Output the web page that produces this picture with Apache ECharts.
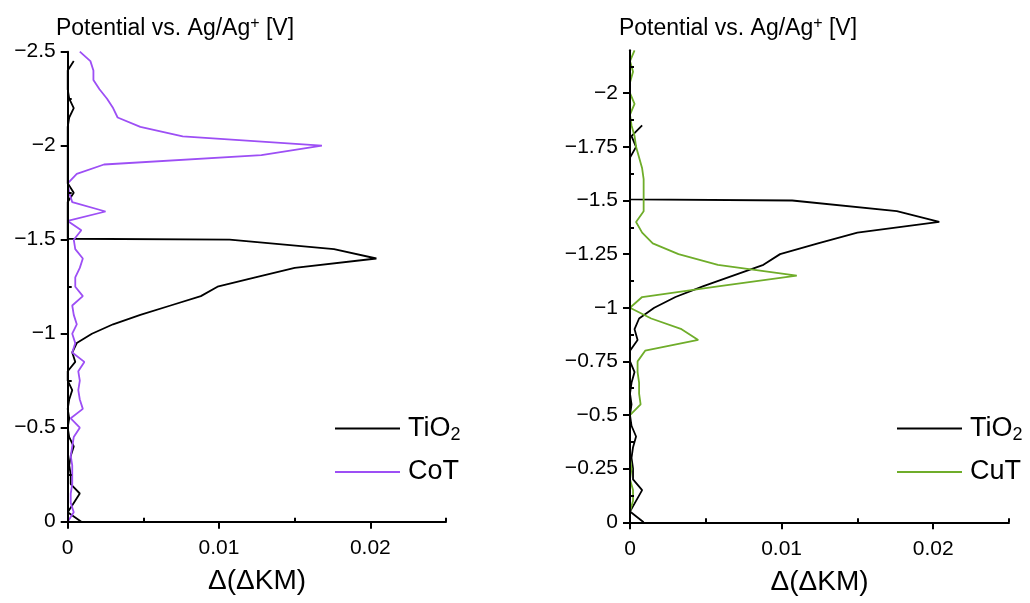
<!DOCTYPE html>
<html><head><meta charset="utf-8">
<script src="https://cdn.jsdelivr.net/npm/echarts@6/dist/echarts.min.js"></script>
<style>html,body{margin:0;padding:0;background:#fff}#c{width:1030px;height:603px}</style>
</head><body><div id="c"></div>
<script>
// Potential grid (V vs Ag/Ag+) used by CoT
const potentials = [0,-0.05,-0.10,-0.15,-0.20,-0.25,-0.30,-0.35,-0.40,-0.45,-0.50,-0.55,-0.60,-0.65,-0.70,-0.75,-0.80,-0.85,-0.90,-0.95,-1.00,-1.05,-1.10,-1.15,-1.20,-1.25,-1.30,-1.35,-1.40,-1.45,-1.50,-1.55,-1.60,-1.65,-1.70,-1.75,-1.80,-1.85,-1.90,-1.95,-2.00,-2.05,-2.10,-2.15,-2.20,-2.25,-2.30,-2.35,-2.40,-2.45,-2.50];
const cotValues = [0.0000,0.0004,0.0002,0.0002,0.0003,0.0003,0.0003,0.0002,0.0003,0.0004,0.0008,0.0002,0.0010,0.0008,0.0007,0.0008,0.0007,0.0011,0.0003,0.0005,0.0003,0.0006,0.0004,0.0003,0.0010,0.0005,0.0005,0.0008,0.0010,0.0005,0.0004,0.0009,0.0000,0.0025,0.0003,0.0001,0.0000,0.0006,0.0024,0.0128,0.0168,0.0076,0.0048,0.0033,0.0030,0.0026,0.0021,0.0017,0.0017,0.0015,0.0008];

// CuT potentials and values
const cutPotentials = [0,-0.05,-0.10,-0.15,-0.20,-0.25,-0.30,-0.35,-0.40,-0.45,-0.50,-0.55,-0.60,-0.65,-0.70,-0.75,-0.80,-0.85,-0.90,-0.95,-1.00,-1.05,-1.10,-1.15,-1.20,-1.25,-1.30,-1.35,-1.40,-1.45,-1.50,-1.55,-1.60,-1.65,-1.70,-1.75,-1.80,-1.85,-1.90,-1.95,-2.00,-2.05,-2.10,-2.15,-2.20];
const cutValues = [0.0000,0.0000,0.0002,0.0002,0.0000,0.0001,0.0000,0.0000,0.0000,0.0000,0.0000,0.0007,0.0006,0.0006,0.0005,0.0005,0.0010,0.0045,0.0034,0.0014,0.0000,0.0008,0.0058,0.0110,0.0058,0.0032,0.0015,0.0008,0.0004,0.0009,0.0009,0.0009,0.0009,0.0008,0.0006,0.0004,0.0003,0.0001,0.0000,0.0003,0.0000,0.0000,0.0002,0.0000,0.0003];

// TiO2: common part (0 to -1.5 V, incl. drop back to axis)
const tio2Potentials = [0,-0.05,-0.10,-0.15,-0.20,-0.25,-0.30,-0.35,-0.40,-0.45,-0.50,-0.55,-0.60,-0.65,-0.70,-0.75,-0.80,-0.85,-0.90,-0.95,-1.00,-1.05,-1.10,-1.15,-1.20,-1.25,-1.30,-1.35,-1.40,-1.45,-1.50,-1.505];
const tio2Values = [0.0009,0.0000,0.0004,0.0008,0.0002,0.0002,0.0001,0.0002,0.0004,0.0001,0.0000,0.0001,0.0000,0.0001,0.0003,0.0000,0.0000,0.0005,0.0003,0.0006,0.0016,0.0030,0.0048,0.0068,0.0088,0.0099,0.0124,0.0150,0.0204,0.0176,0.0107,0.0000];
// TiO2 tail as drawn in the left panel
const tio2TailLeftPotentials = [-1.55,-1.60,-1.65,-1.70,-1.75,-1.80,-1.85,-1.90,-1.95,-2.00,-2.05,-2.10,-2.15,-2.20,-2.25,-2.30,-2.35,-2.40,-2.45];
const tio2TailLeftValues = [0,0,0,0,0.0004,0,0,0,0,0,0,0,0.0001,0.0004,0.0001,0,0,0,0.0004];
// TiO2 tail as drawn in the right panel
const tio2TailRightPotentials = [-1.55,-1.60,-1.65,-1.70,-1.75,-1.80,-1.85];
const tio2TailRightValues = [0,0,0,0,0.0004,0.0001,0.0008];

// Ticks
const xMajorTicks = [0, 0.01, 0.02];
const xMinorTicks = [0.005, 0.015, 0.025];
const yLeftMajorTicks = [0,-0.5,-1,-1.5,-2,-2.5];
const yLeftMinorTicks = [-0.25,-0.75,-1.25,-1.75,-2.25];
const yRightMajorTicks = [0,-0.25,-0.5,-0.75,-1,-1.25,-1.5,-1.75,-2];
const yRightMinorTicks = [-0.125,-0.375,-0.625,-0.875,-1.125,-1.375,-1.625,-1.875,-2.125];

const FONT = 'Liberation Sans, Arial, Helvetica, sans-serif';
const BLACK = '#000000';
const PURPLE = '#9d4ff5';
const GREEN = '#6fad2a';
const LW = 1.8;

function pairs(pots, vals) { return pots.map((p, i) => [vals[i], p]); }
const tio2Left = pairs(tio2Potentials.concat(tio2TailLeftPotentials), tio2Values.concat(tio2TailLeftValues));
const tio2Right = pairs(tio2Potentials.concat(tio2TailRightPotentials), tio2Values.concat(tio2TailRightValues));
const cot = pairs(potentials, cotValues);
const cut = pairs(cutPotentials, cutValues);

const fmtY = v => (v === 0 ? '0' : String(v).replace('-', '\u2212'));
const fmtX = v => (v === 0 ? '0' : String(v));

function mainX(grid) {
  return {
    type: 'value', gridIndex: grid, min: 0, max: 0.025, z: 10,
    axisLine: { show: true, onZero: false, lineStyle: { color: BLACK, width: 2 } },
    axisTick: { show: true, customValues: xMajorTicks, length: 7, lineStyle: { color: BLACK, width: 2 } },
    axisLabel: { show: true, customValues: xMajorTicks, formatter: fmtX, color: BLACK, fontSize: 21, fontFamily: FONT, margin: 16 },
    splitLine: { show: false }
  };
}
function minorX(grid) {
  return {
    type: 'value', gridIndex: grid, min: 0, max: 0.025, z: 10,
    axisLine: { show: false },
    axisTick: { show: true, customValues: xMinorTicks, length: 4, lineStyle: { color: BLACK, width: 2 } },
    axisLabel: { show: false }, splitLine: { show: false }
  };
}
function mainY(grid, min, majors) {
  return {
    type: 'value', gridIndex: grid, min: min, max: 0, inverse: true, z: 10,
    axisLine: { show: true, onZero: false, lineStyle: { color: BLACK, width: 2 } },
    axisTick: { show: true, customValues: majors, length: 7, lineStyle: { color: BLACK, width: 2 } },
    axisLabel: { show: true, customValues: majors, formatter: fmtY, color: BLACK, fontSize: 21, fontFamily: FONT, margin: 12 },
    splitLine: { show: false }
  };
}
function minorY(grid, min, minors) {
  return {
    type: 'value', gridIndex: grid, min: min, max: 0, inverse: true, z: 10,
    axisLine: { show: false },
    axisTick: { show: true, customValues: minors, length: 4, lineStyle: { color: BLACK, width: 2 } },
    axisLabel: { show: false }, splitLine: { show: false }
  };
}

const legendRich = {
  a: { fontSize: 27, fontFamily: FONT, color: BLACK, lineHeight: 32, padding: [0, 0, 0, 3] },
  s: { fontSize: 18, fontFamily: FONT, color: BLACK, lineHeight: 14, verticalAlign: 'bottom' }
};
const legendFmt = name => (name === 'TiO2' ? '{a|TiO}{s|2}' : '{a|' + name + '}');

const titleRich = {
  a: { fontSize: 23, fontFamily: FONT, color: BLACK, lineHeight: 27 },
  b: { fontSize: 16, fontFamily: FONT, color: BLACK, lineHeight: 18, verticalAlign: 'top' }
};

function legendAt(left, names) {
  return {
    data: names.map(n => ({ name: n, icon: 'rect' })),
    orient: 'vertical', left: left, top: 415, padding: 0,
    itemWidth: 65, itemHeight: 2, itemGap: 14,
    formatter: legendFmt, textStyle: { rich: legendRich }, selectedMode: false
  };
}

const chart = echarts.init(document.getElementById('c'), null, { renderer: 'canvas' });
chart.setOption({
  backgroundColor: '#ffffff',
  animation: false,
  grid: [
    { left: 67.7, right: 584, top: 51.7, bottom: 81.3 },
    { left: 630, right: 21, top: 50.3, bottom: 80.7 }
  ],
  xAxis: [mainX(0), minorX(0), mainX(1), minorX(1)],
  yAxis: [mainY(0, -2.5, yLeftMajorTicks), minorY(0, -2.5, yLeftMinorTicks),
          mainY(1, -2.2, yRightMajorTicks), minorY(1, -2.2, yRightMinorTicks)],
  legend: [legendAt(335, ['TiO2', 'CoT']), legendAt(897, ['TiO2', 'CuT'])],
  graphic: [
    { type: 'text', x: 175, y: 29, style: { text: '{a|Potential vs. Ag/Ag}{b|+}{a| [V]}', rich: titleRich, align: 'center', verticalAlign: 'middle' } },
    { type: 'text', x: 738, y: 29, style: { text: '{a|Potential vs. Ag/Ag}{b|+}{a| [V]}', rich: titleRich, align: 'center', verticalAlign: 'middle' } },
    { type: 'text', x: 257, y: 581, style: { text: '\u0394(\u0394KM)', fontSize: 28, fontFamily: FONT, fill: BLACK, align: 'center', verticalAlign: 'middle' } },
    { type: 'text', x: 819.5, y: 582, style: { text: '\u0394(\u0394KM)', fontSize: 28, fontFamily: FONT, fill: BLACK, align: 'center', verticalAlign: 'middle' } }
  ],
  series: [
    { name: 'TiO2', type: 'line', xAxisIndex: 0, yAxisIndex: 0, data: tio2Left, symbol: 'none', lineStyle: { color: BLACK, width: LW }, itemStyle: { color: BLACK } },
    { name: 'CoT', type: 'line', xAxisIndex: 0, yAxisIndex: 0, data: cot, symbol: 'none', lineStyle: { color: PURPLE, width: LW }, itemStyle: { color: PURPLE } },
    { name: 'TiO2', type: 'line', xAxisIndex: 2, yAxisIndex: 2, data: tio2Right, symbol: 'none', lineStyle: { color: BLACK, width: LW }, itemStyle: { color: BLACK } },
    { name: 'CuT', type: 'line', xAxisIndex: 2, yAxisIndex: 2, data: cut, symbol: 'none', lineStyle: { color: GREEN, width: LW }, itemStyle: { color: GREEN } }
  ]
});
</script></body></html>
